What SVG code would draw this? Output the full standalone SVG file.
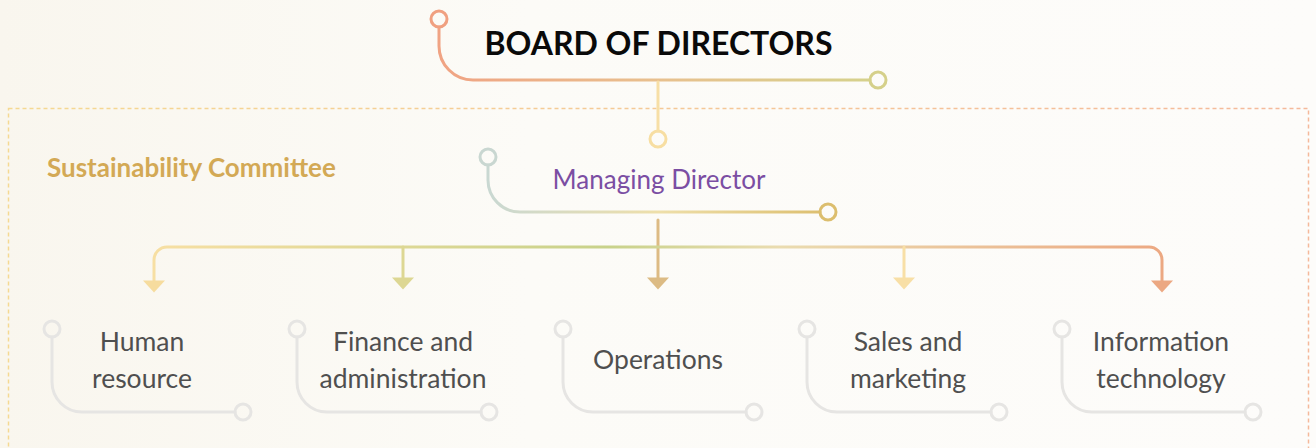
<svg xmlns="http://www.w3.org/2000/svg" width="1316" height="448" viewBox="0 0 1316 448">
<defs>
<linearGradient id="bg" x1="0" y1="0" x2="1316" y2="0" gradientUnits="userSpaceOnUse">
<stop offset="0" stop-color="#f9f6ee"/><stop offset="0.4" stop-color="#fcfbf7"/><stop offset="1" stop-color="#fdfcfa"/>
</linearGradient>
<linearGradient id="gDash" x1="8" y1="0" x2="1308" y2="0" gradientUnits="userSpaceOnUse">
<stop offset="0" stop-color="#f5d992"/><stop offset="1" stop-color="#f5b99b"/>
</linearGradient>
<linearGradient id="gBoard" x1="439" y1="0" x2="878" y2="0" gradientUnits="userSpaceOnUse">
<stop offset="0" stop-color="#f0a383"/><stop offset="0.5" stop-color="#e8c08e"/><stop offset="1" stop-color="#d5d28c"/>
</linearGradient>
<linearGradient id="gMan" x1="488" y1="0" x2="828" y2="0" gradientUnits="userSpaceOnUse">
<stop offset="0" stop-color="#c9d8d2"/><stop offset="0.5" stop-color="#eedfaa"/><stop offset="1" stop-color="#dcbe6e"/>
</linearGradient>
<linearGradient id="gBus" x1="153" y1="0" x2="1163" y2="0" gradientUnits="userSpaceOnUse">
<stop offset="0" stop-color="#f7dfa3"/><stop offset="0.45" stop-color="#c8d28a"/><stop offset="0.62" stop-color="#eadcb0"/><stop offset="1" stop-color="#eca882"/>
</linearGradient>
<style>
.ring{fill:none;stroke-width:3}
.ln{fill:none;stroke-width:3;stroke-linecap:round}
.gray{stroke:#e6e5e3}
.node text{font-family:Lato,"Noto Sans",sans-serif;font-size:26.5px;fill:#4f4f4f;text-anchor:middle}
</style>
</defs>
<rect x="0" y="0" width="1316" height="448" fill="url(#bg)"/>
<rect x="8.5" y="108.5" width="1300" height="360" fill="none" stroke="url(#gDash)" stroke-width="1.5" stroke-dasharray="4 3"/>
<g id="committee">
<text x="47" y="177" font-family="Lato,'Noto Sans',sans-serif" font-weight="bold" font-size="26" fill="#d3a955">Sustainability Committee</text>
</g>
<g id="board">
<path class="ln" d="M439 27 V46 A34 34 0 0 0 473 80 H870" stroke="url(#gBoard)"/>
<circle class="ring" cx="439" cy="19" r="8" stroke="#f0a080"/>
<circle class="ring" cx="878" cy="80" r="8" stroke="#d5d08a"/>
<text x="658.5" y="55" text-anchor="middle" font-family="Lato,'Noto Sans',sans-serif" font-weight="bold" font-size="32" fill="#0a0a0a">BOARD OF DIRECTORS</text>
</g>
<g id="managing">
<path class="ln" d="M488 165 V180 A32 32 0 0 0 520 212 H820" stroke="url(#gMan)"/>
<circle class="ring" cx="488" cy="157" r="8" stroke="#c9d7d1"/>
<circle class="ring" cx="828" cy="212" r="8" stroke="#dcbe6e"/>
<circle class="ring" cx="658" cy="139" r="8" stroke="#f7dea2"/>
<text x="659" y="189" text-anchor="middle" font-family="Lato,'Noto Sans',sans-serif" font-size="26" fill="#7b4ea3">Managing Director</text>
</g>
<g id="connectors">
<path class="ln" d="M658 82 V131" stroke="#f7dfa6"/>
<path class="ln" d="M658 220 V280" stroke="#ddbb84"/>
<path class="ln" d="M154 282 V260 A13 13 0 0 1 167 247 H1149 A13 13 0 0 1 1162 260 V282" stroke="url(#gBus)"/>
<path class="ln" d="M403 247 V280" stroke="#ddd793"/>
<path class="ln" d="M904 247 V280" stroke="#f8dfa6"/>
<polygon points="143,280.5 165,280.5 154,292.5" fill="#f6dc9e"/>
<polygon points="392,277.5 414,277.5 403,289.5" fill="#ddd793"/>
<polygon points="647,277.5 669,277.5 658,289.5" fill="#dcbb84"/>
<polygon points="893,277.5 915,277.5 904,289.5" fill="#f8dfa6"/>
<polygon points="1151,280.5 1173,280.5 1162,292.5" fill="#eca882"/>
</g>
<g id="hr" class="node">
<path class="ln gray" d="M52 337 V382 A30 30 0 0 0 82 412 H235"/>
<circle class="ring gray" cx="52" cy="329" r="8"/>
<circle class="ring gray" cx="243" cy="412" r="8"/>
<text x="142" y="351">Human</text>
<text x="142" y="388">resource</text>
</g>
<g id="finance" class="node">
<path class="ln gray" d="M297 337 V382 A30 30 0 0 0 327 412 H481"/>
<circle class="ring gray" cx="297" cy="329" r="8"/>
<circle class="ring gray" cx="489" cy="412" r="8"/>
<text x="403" y="351">Finance and</text>
<text x="403" y="388">administration</text>
</g>
<g id="operations" class="node">
<path class="ln gray" d="M563 337 V382 A30 30 0 0 0 593 412 H746"/>
<circle class="ring gray" cx="563" cy="329" r="8"/>
<circle class="ring gray" cx="754" cy="412" r="8"/>
<text x="658" y="369">Operations</text>
</g>
<g id="sales" class="node">
<path class="ln gray" d="M807 337 V382 A30 30 0 0 0 837 412 H991"/>
<circle class="ring gray" cx="807" cy="329" r="8"/>
<circle class="ring gray" cx="999" cy="412" r="8"/>
<text x="908" y="351">Sales and</text>
<text x="908" y="388">marketing</text>
</g>
<g id="it" class="node">
<path class="ln gray" d="M1062 337 V382 A30 30 0 0 0 1092 412 H1245"/>
<circle class="ring gray" cx="1062" cy="329" r="8"/>
<circle class="ring gray" cx="1253" cy="412" r="8"/>
<text x="1161" y="351">Information</text>
<text x="1161" y="388">technology</text>
</g>
</svg>
